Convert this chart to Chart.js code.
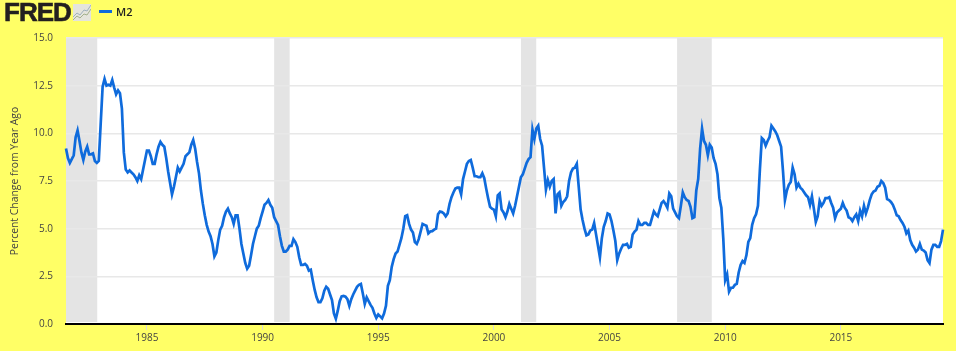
<!DOCTYPE html>
<html>
<head>
<meta charset="utf-8">
<title>M2</title>
<script src="https://cdn.jsdelivr.net/npm/chart.js@4"></script>
<style>
  html, body { margin: 0; padding: 0; background: #ffff66; }
  #wrap { position: relative; width: 956px; height: 351px; overflow: hidden; }
  canvas { position: absolute; left: 0; top: 0; }
  #logo { position: absolute; left: 4px; top: -3px; font: bold 26px "Liberation Sans", sans-serif; letter-spacing: -1px; color: #231f20; -webkit-text-stroke: 0.6px #231f20; }
  #icon { position: absolute; left: 73px; top: 4px; width: 18px; height: 17px; background: #e4e4dc; }
  #key { position: absolute; left: 99px; top: 10px; width: 13px; height: 3px; background: #0f6bdc; }
  #name { position: absolute; left: 116px; top: 4px; font: 600 11px "Open Sans", sans-serif; color: #222; }
</style>
</head>
<body>
<div id="wrap">
  <canvas id="chart" width="956" height="351"></canvas>
  <div id="logo">FRED</div>
  <svg id="icon" viewBox="0 0 18 17">
    <polyline points="0,13 4,9 7,11 11,6 14,7 18,1" fill="none" stroke="#9fb0bc" stroke-width="1"/>
    <polyline points="0,16 4,12 7,14 11,10 14,11 18,5" fill="none" stroke="#a3b08c" stroke-width="1"/>
  </svg>
  <div id="key"></div>
  <div id="name"></div>
</div>
<script>
const seriesName = "M2";
const yTitle = "Percent Change from Year Ago";
const firstYear = 1981.5;
const xTicks = [1985, 1990, 1995, 2000, 2005, 2010, 2015];
const yTicks = [0, 2.5, 5, 7.5, 10, 12.5, 15];

// shaded recessions, start and end as decimal years
const recessionStart = [1981.5, 1990.5, 2001.17, 2007.92];
const recessionEnd = [1982.85, 1991.17, 2001.83, 2009.42];

// monthly values, Jul 1981 to Jun 2019
const m2 = [
  9.2, 8.7, 8.45, 8.65, 8.85, 9.8,
  10.15, 9.6, 9.0, 8.6, 9.05, 9.3, 8.9, 8.9, 8.95, 8.55, 8.45, 8.55,
  10.5, 12.45, 12.85, 12.5, 12.55, 12.5, 12.8, 12.4, 12.05, 12.25, 12.1, 11.3,
  9.0, 8.1, 7.95, 8.05, 7.95, 7.85, 7.7, 7.5, 7.8, 7.6, 8.1, 8.6,
  9.1, 9.1, 8.8, 8.4, 8.4, 8.9, 9.3, 9.55, 9.4, 9.3, 8.7, 8.0,
  7.4, 6.8, 7.2, 7.7, 8.2, 8.0, 8.2, 8.4, 8.8, 8.9, 9.0, 9.4,
  9.65, 9.2, 8.5, 7.9, 7.0, 6.3, 5.7, 5.2, 4.85, 4.6, 4.2, 3.55,
  3.75, 4.4, 4.95, 5.15, 5.6, 5.9, 6.05, 5.8, 5.6, 5.25, 5.7, 5.7,
  5.0, 4.2, 3.7, 3.2, 2.9, 3.05, 3.6, 4.2, 4.6, 5.0, 5.15, 5.55,
  5.9, 6.25, 6.35, 6.5, 6.25, 6.1, 5.6, 5.4, 5.2, 4.6, 4.1, 3.8,
  3.8, 3.9, 4.1, 4.1, 4.45, 4.3, 4.05, 3.5, 3.1, 3.1, 3.15, 3.05,
  2.8, 2.85, 2.3, 1.8, 1.4, 1.15, 1.15, 1.35, 1.75, 1.95, 1.85, 1.55,
  1.25, 0.55, 0.27, 0.7, 1.2, 1.45, 1.47, 1.43, 1.3, 0.95, 1.3, 1.55,
  1.75, 1.95, 2.05, 2.1, 1.6, 1.05, 1.4, 1.2, 1.0, 0.85, 0.55, 0.32,
  0.5, 0.4, 0.3, 0.55, 0.95, 2.0, 2.3, 3.0, 3.4, 3.7, 3.8, 4.15,
  4.5, 5.0, 5.65, 5.7, 5.25, 4.95, 4.8, 4.3, 4.2, 4.45, 4.85, 5.25,
  5.2, 5.15, 4.75, 4.85, 4.87, 4.95, 5.0, 5.75, 5.9, 5.87, 5.8, 5.65,
  5.8, 6.3, 6.65, 6.9, 7.1, 7.15, 7.15, 6.8, 7.6, 8.0, 8.4, 8.55,
  8.6, 8.2, 7.75, 7.75, 7.7, 7.7, 7.9, 7.65, 7.1, 6.6, 6.15, 6.05,
  6.0, 5.65, 6.75, 6.85, 6.0, 5.85, 5.6, 5.9, 6.3, 6.05, 5.8, 6.2,
  6.7, 7.2, 7.7, 7.85, 8.15, 8.45, 8.65, 8.75, 10.2, 9.7, 10.25, 10.4,
  9.7, 9.35, 8.2, 7.05, 7.55, 7.2, 7.5, 7.6, 5.8, 6.8, 6.9, 6.2,
  6.4, 6.5, 6.7, 7.5, 7.95, 8.15, 8.2, 8.4, 7.2, 6.0, 5.45, 5.0,
  4.65, 4.7, 4.9, 4.95, 5.3, 4.7, 4.1, 3.5, 4.5, 5.1, 5.4, 5.8,
  5.75, 5.4, 4.9, 4.35, 3.35, 3.7, 3.95, 4.15, 4.15, 4.2, 4.0, 4.05,
  4.7, 4.85, 4.95, 5.4, 5.2, 5.2, 5.3, 5.3, 5.2, 5.2, 5.55, 5.9,
  5.75, 5.65, 6.0, 6.35, 6.45, 6.3, 6.1, 6.85, 6.7, 6.05, 5.85, 5.65,
  5.55, 6.2, 6.9, 6.65, 6.5, 6.45, 6.15, 5.55, 5.6, 7.0, 7.6, 9.2,
  10.25, 9.6, 9.4, 8.85, 9.4, 9.25, 8.7, 8.4, 7.85, 6.6, 6.1, 4.5,
  2.3, 2.6, 1.7, 1.9, 1.9, 2.05, 2.1, 2.7, 3.1, 3.3, 3.2, 3.6,
  4.3, 4.5, 5.2, 5.55, 5.75, 6.2, 8.1, 9.75, 9.65, 9.35, 9.6, 9.8,
  10.4, 10.25, 10.1, 9.9, 9.6, 9.3, 8.0, 6.5, 7.0, 7.3, 7.45, 8.2,
  7.85, 7.15, 7.35, 7.15, 7.05, 6.9, 6.75, 6.65, 6.25, 6.7, 6.05, 5.35,
  5.65, 6.45, 6.2, 6.35, 6.6, 6.6, 6.65, 6.35, 6.1, 5.55, 5.85, 5.95,
  6.05, 6.35, 6.1, 5.95, 5.6, 5.55, 5.4, 5.6, 5.75, 5.4, 5.95, 5.65,
  6.2, 5.8, 6.1, 6.5, 6.8, 6.95, 7.0, 7.2, 7.25, 7.5, 7.4, 7.15,
  6.55, 6.5, 6.4, 6.25, 6.0, 5.7, 5.65, 5.45, 5.3, 5.1, 4.75, 4.9,
  4.4, 4.15, 4.0, 3.8, 3.9, 4.2, 3.9, 3.85, 3.75, 3.35, 3.2, 3.9,
  4.15, 4.15, 4.05, 4.05, 4.35, 4.95
];

document.getElementById("name").textContent = seriesName;

const points = m2.map((v, i) => ({ x: firstYear + i / 12, y: v }));

// white plot background and the grey recession bands
const backdrop = {
  id: "backdrop",
  beforeDraw(chart) {
    const { ctx, chartArea: a, scales: { x } } = chart;
    ctx.save();
    ctx.fillStyle = "#ffffff";
    ctx.fillRect(a.left, a.top, a.right - a.left, a.bottom - a.top);
    ctx.fillStyle = "#e4e4e4";
    recessionStart.forEach((s, i) => {
      const l = x.getPixelForValue(s);
      const r = x.getPixelForValue(recessionEnd[i]);
      ctx.fillRect(l, a.top, r - l, a.bottom - a.top - 2);
    });
    ctx.restore();
  }
};

new Chart(document.getElementById("chart"), {
  type: "line",
  data: {
    datasets: [{
      label: seriesName,
      data: points,
      borderColor: "#0f6bdc",
      borderWidth: 2.7,
      pointRadius: 0,
      tension: 0,
      clip: false
    }]
  },
  options: {
    responsive: false,
    animation: false,
    parsing: false,
    layout: { padding: { top: 38, right: 13, left: 0, bottom: 0 } },
    plugins: { legend: { display: false }, tooltip: { enabled: false } },
    scales: {
      x: {
        type: "linear",
        min: firstYear,
        max: points[points.length - 1].x,
        afterBuildTicks: s => { s.ticks = xTicks.map(v => ({ value: v })); },
        afterFit: s => { s.height = 27; },
        grid: { drawOnChartArea: false, tickLength: 6, tickColor: "#d8d8d8", tickWidth: 1 },
        border: { color: "#000000", width: 2 },
        ticks: {
          maxRotation: 0,
          padding: 2,
          color: "#444444",
          font: { family: "Open Sans", size: 10 },
          callback: v => String(v)
        }
      },
      y: {
        min: 0,
        max: 15,
        afterBuildTicks: s => { s.ticks = yTicks.map(v => ({ value: v })); },
        afterFit: s => { s.width = 66; },
        grid: { color: "#e8e8e8", lineWidth: 1.5, drawTicks: false },
        border: { display: false },
        title: {
          display: true,
          text: yTitle,
          color: "#444444",
          padding: { top: 9, bottom: 0 },
          font: { family: "Open Sans", size: 10.4 }
        },
        ticks: {
          padding: 13,
          color: "#444444",
          font: { family: "Open Sans", size: 10 },
          callback: v => v.toFixed(1)
        }
      }
    }
  },
  plugins: [backdrop]
});
</script>
</body>
</html>
